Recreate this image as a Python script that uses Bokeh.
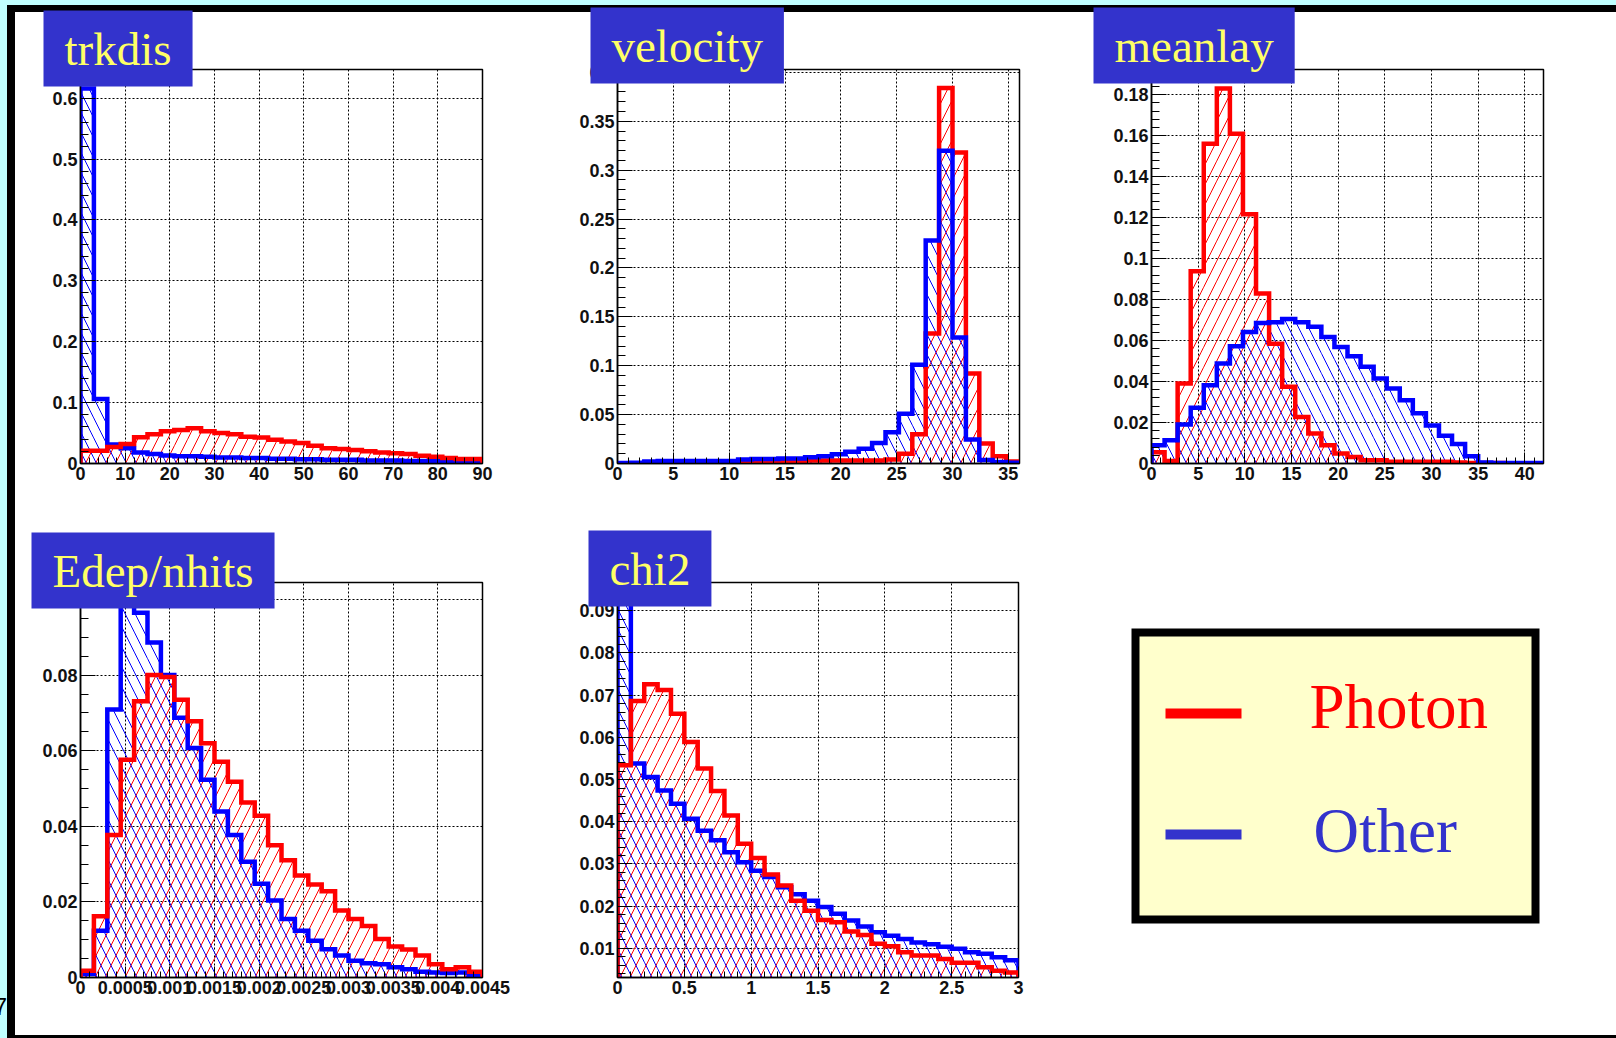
import numpy as np
from bokeh.plotting import figure
from bokeh.models import ColumnDataSource, FixedTicker, Label, Range1d, Spacer, Div
from bokeh.layouts import column, row
from bokeh.embed import file_html
from bokeh.resources import INLINE
from bokeh.core.properties import value

# ---------------- data (30 bins per histogram, normalised) ----------------
trkdis_range = (0, 90)
trkdis_photon = [0.021, 0.021, 0.027, 0.032, 0.043, 0.048, 0.053, 0.055, 0.058, 0.053,
                 0.050, 0.048, 0.044, 0.0425, 0.039, 0.036, 0.0335, 0.029, 0.025, 0.024,
                 0.022, 0.020, 0.018, 0.017, 0.0155, 0.0127, 0.011, 0.009, 0.0072, 0.0072]
trkdis_other = [0.616, 0.106, 0.031, 0.025, 0.018, 0.0155, 0.013, 0.012, 0.012, 0.011,
                0.010, 0.010, 0.009, 0.009, 0.008, 0.008, 0.007, 0.007, 0.006, 0.006,
                0.006, 0.005, 0.005, 0.005, 0.004, 0.004, 0.004, 0.003, 0.003, 0.003]

velocity_range = (0, 36)
velocity_photon = [0, 0, 0.0003, 0.0003, 0.0003, 0, 0, 0, 0, 0.002,
                   0.002, 0.002, 0.002, 0.002, 0.003, 0.003, 0.003, 0.003, 0.003, 0.003,
                   0.004, 0.010, 0.030, 0.133, 0.384, 0.318, 0.092, 0.0205, 0.0075, 0.002]
velocity_other = [0.0005, 0.0008, 0.002, 0.0025, 0.0025, 0.0025, 0.0025, 0.0025, 0.0025, 0.004,
                  0.0045, 0.0045, 0.005, 0.005, 0.0065, 0.0075, 0.0095, 0.012, 0.015, 0.021,
                  0.032, 0.051, 0.101, 0.228, 0.320, 0.129, 0.0246, 0.0035, 0.0015, 0.0008]

meanlay_range = (0, 42)
meanlay_photon = [0.0055, 0.0012, 0.039, 0.0938, 0.156, 0.183, 0.161, 0.1216, 0.083, 0.0585,
                  0.0374, 0.0227, 0.0146, 0.0089, 0.0049, 0.0032, 0.0016, 0.0016, 0.0008, 0.0008,
                  0.0008, 0.0008, 0.0008, 0.0005, 0.0003, 0.0003, 0.0002, 0.0001, 0.0, 0.0]
meanlay_other = [0.0089, 0.0114, 0.019, 0.0272, 0.0382, 0.0488, 0.0572, 0.0642, 0.0686, 0.069,
                 0.0705, 0.069, 0.0667, 0.0618, 0.0569, 0.0524, 0.0472, 0.0415, 0.0366, 0.0309,
                 0.0245, 0.0185, 0.0135, 0.0095, 0.0035, 0.0005, 0.0003, 0.0002, 0.0002, 0.0002]

edep_range = (0, 0.0045)
edep_photon = [0.0018, 0.0162, 0.0377, 0.0576, 0.0731, 0.080, 0.0795, 0.0735, 0.0678, 0.062,
               0.0571, 0.0518, 0.0463, 0.0428, 0.035, 0.031, 0.027, 0.0246, 0.0228, 0.0177,
               0.0155, 0.0136, 0.0102, 0.0082, 0.0074, 0.0058, 0.0035, 0.0022, 0.0027, 0.0015]
edep_other = [0.0009, 0.0124, 0.0709, 0.0995, 0.0965, 0.0886, 0.080, 0.0687, 0.0607, 0.0523,
              0.0439, 0.0377, 0.0306, 0.0248, 0.0204, 0.0155, 0.0124, 0.0097, 0.0075, 0.0058,
              0.0044, 0.0038, 0.0035, 0.0027, 0.0022, 0.0015, 0.0013, 0.0012, 0.0013, 0.0006]

chi2_range = (0, 3)
chi2_photon = [0.0534, 0.0686, 0.0726, 0.0712, 0.0656, 0.0589, 0.0526, 0.0473, 0.0415, 0.0348,
               0.0314, 0.0275, 0.0249, 0.0213, 0.0189, 0.0167, 0.0162, 0.0140, 0.0132, 0.0111,
               0.0105, 0.0091, 0.0083, 0.0083, 0.0075, 0.0066, 0.0066, 0.0055, 0.0047, 0.0043]
chi2_other = [0.21, 0.0538, 0.0506, 0.0474, 0.0443, 0.0407, 0.0379, 0.0356, 0.0328, 0.0304,
              0.0284, 0.0269, 0.0245, 0.0228, 0.0213, 0.0198, 0.0182, 0.0166, 0.0152, 0.0138,
              0.0130, 0.0122, 0.0114, 0.0110, 0.0104, 0.0099, 0.0091, 0.0087, 0.0079, 0.0072]

# tick values and labels
trkdis_xticks = [0, 10, 20, 30, 40, 50, 60, 70, 80, 90]
trkdis_xlabels = ["0", "10", "20", "30", "40", "50", "60", "70", "80", "90"]
trkdis_yticks = [0, 0.1, 0.2, 0.3, 0.4, 0.5, 0.6]
trkdis_ylabels = ["0", "0.1", "0.2", "0.3", "0.4", "0.5", "0.6"]

velocity_xticks = [0, 5, 10, 15, 20, 25, 30, 35]
velocity_xlabels = ["0", "5", "10", "15", "20", "25", "30", "35"]
velocity_yticks = [0, 0.05, 0.1, 0.15, 0.2, 0.25, 0.3, 0.35, 0.4]
velocity_ylabels = ["0", "0.05", "0.1", "0.15", "0.2", "0.25", "0.3", "0.35", "0.4"]

meanlay_xticks = [0, 5, 10, 15, 20, 25, 30, 35, 40]
meanlay_xlabels = ["0", "5", "10", "15", "20", "25", "30", "35", "40"]
meanlay_yticks = [0, 0.02, 0.04, 0.06, 0.08, 0.1, 0.12, 0.14, 0.16, 0.18]
meanlay_ylabels = ["0", "0.02", "0.04", "0.06", "0.08", "0.1", "0.12", "0.14", "0.16", "0.18"]

edep_xticks = [0, 0.0005, 0.001, 0.0015, 0.002, 0.0025, 0.003, 0.0035, 0.004, 0.0045]
edep_xlabels = ["0", "0.0005", "0.001", "0.0015", "0.002", "0.0025", "0.003", "0.0035", "0.004", "0.0045"]
edep_yticks = [0, 0.02, 0.04, 0.06, 0.08, 0.1]
edep_ylabels = ["0", "0.02", "0.04", "0.06", "0.08", "0.1"]

chi2_xticks = [0, 0.5, 1, 1.5, 2, 2.5, 3]
chi2_xlabels = ["0", "0.5", "1", "1.5", "2", "2.5", "3"]
chi2_yticks = [0.01, 0.02, 0.03, 0.04, 0.05, 0.06, 0.07, 0.08, 0.09]
chi2_ylabels = ["0.01", "0.02", "0.03", "0.04", "0.05", "0.06", "0.07", "0.08", "0.09"]

legend_labels = ["Photon", "Other"]
legend_colors = ["#ff0000", "#3333cc"]
page_number = "7"

# ---------------- style ----------------
RED = "#ff0000"
BLUE = "#0000ff"
TITLE_BG = "#3333cc"
TITLE_FG = "#ffff66"
CYAN = "#c0ffff"
SERIF = "Liberation Serif"
SANS = "Liberation Sans"
TOP = 77          # height reserved by the title box in the "above" panel


def minor_list(lo, hi, step):
    n = int(round((hi - lo) / step))
    return [lo + i * step for i in range(n + 1)]


def style_axis(ax, ticks, labels, minor, tick_in, minor_in):
    ax.ticker = FixedTicker(ticks=ticks, minor_ticks=minor)
    ax.major_label_overrides = {t: l for t, l in zip(ticks, labels)}
    ax.major_tick_in = tick_in
    ax.major_tick_out = 0
    ax.minor_tick_in = minor_in
    ax.minor_tick_out = 0
    ax.major_tick_line_color = "black"
    ax.minor_tick_line_color = "black"
    ax.axis_line_color = "black"
    ax.axis_line_width = 1.5
    ax.major_label_text_font = SANS
    ax.major_label_text_font_style = "bold"
    ax.major_label_text_font_size = "18px"
    ax.major_label_text_color = "#111111"
    ax.major_label_standoff = 3
    return ax.ticker


def draw_hist(p, rng, vals, color, hatch, base):
    edges = np.linspace(rng[0], rng[1], len(vals) + 1)
    v = np.asarray(vals, dtype=float)
    src = ColumnDataSource(dict(left=edges[:-1], right=edges[1:], top=v))
    p.quad(left="left", right="right", top="top", bottom=base, source=src,
           fill_color=None, line_color=None, hatch_pattern=hatch,
           hatch_color=color, hatch_scale=20, hatch_weight=1)
    xs = np.repeat(edges, 2)
    ys = np.concatenate([[base], np.repeat(v, 2), [base]])
    return xs, ys


def panel(name, rng, photon, other, yr, xt, xl, xminor, yt, yl, yminor,
          geom, tpos, red_on_top, shift):
    fw, fh, ml, mr, mb = geom
    p = figure(title=None, frame_width=fw, frame_height=fh,
               min_border_left=ml, min_border_right=mr,
               min_border_top=TOP, min_border_bottom=mb,
               x_range=Range1d(rng[0], rng[1]), y_range=Range1d(yr[0], yr[1]),
               toolbar_location=None, output_backend="svg",
               background_fill_color="white", border_fill_color=None,
               outline_line_color="black", outline_line_width=1.5,
               margin=(shift, 0, 0, 0))
    xtk = style_axis(p.xaxis[0], xt, xl, xminor, 11, 6)
    ytk = style_axis(p.yaxis[0], yt, yl, yminor, 15, 8)
    for g, tk in ((p.xgrid[0], xtk), (p.ygrid[0], ytk)):
        g.ticker = tk
        g.grid_line_color = "black"
        g.grid_line_dash = "2 2"
        g.grid_line_width = 1

    xr_, yr_ = draw_hist(p, rng, photon, RED, "/", 0)
    xb_, yb_ = draw_hist(p, rng, other, BLUE, "\\", 0)
    order = [(xb_, yb_, BLUE), (xr_, yr_, RED)] if red_on_top else [(xr_, yr_, RED), (xb_, yb_, BLUE)]
    for xs, ys, c in order:
        p.line(xs, ys, line_color=c, line_width=4.5, line_join="miter")

    # title box lives in the "above" side panel so it is not clipped to the frame
    p.add_layout(Label(x=tpos[0], y=tpos[1], x_units="screen", y_units="screen",
                       text=name, text_font=SERIF, text_font_size="47px",
                       text_color=TITLE_FG, text_align="left", text_baseline="top",
                       background_fill_color=TITLE_BG, padding=(21, 12)), "above")
    return p


p1 = panel("trkdis", trkdis_range, trkdis_photon, trkdis_other, (0, 0.647),
           trkdis_xticks, trkdis_xlabels, minor_list(0, 90, 2),
           trkdis_yticks, trkdis_ylabels, minor_list(0, 0.64, 0.02),
           (402, 394, 65, 78, 57), (-37, 59), True, -20)
p2 = panel("velocity", velocity_range, velocity_photon, velocity_other, (0, 0.403),
           velocity_xticks, velocity_xlabels, minor_list(0, 36, 1),
           velocity_yticks, velocity_ylabels, minor_list(0, 0.40, 0.01),
           (402, 394, 57, 66, 57), (-27, 62), False, -20)
p3 = panel("meanlay", meanlay_range, meanlay_photon, meanlay_other, (0, 0.1923),
           meanlay_xticks, meanlay_xlabels, minor_list(0, 42, 1),
           meanlay_yticks, meanlay_ylabels, minor_list(0, 0.192, 0.004),
           (392, 394, 66, 73, 57), (-58, 62), False, -20)
p4 = panel("Edep/nhits", edep_range, edep_photon, edep_other, (0, 0.1045),
           edep_xticks, edep_xlabels, minor_list(0, 0.0045, 0.0001),
           edep_yticks, edep_ylabels, minor_list(0, 0.1, 0.005),
           (402, 395, 65, 78, 58), (-49, 50), True, -15)
p5 = panel("chi2", chi2_range, chi2_photon, chi2_other, (0.0031, 0.0967),
           chi2_xticks, chi2_xlabels, minor_list(0, 3, 0.1),
           chi2_yticks, chi2_ylabels, minor_list(0.004, 0.096, 0.002),
           (401, 395, 57, 67, 58), (-29, 52), True, -15)

# legend panel (same vertical borders as the other plots in its row)
leg = figure(title=None, frame_width=420, frame_height=395, min_border_left=40, min_border_right=71,
             min_border_top=TOP, min_border_bottom=58,
             x_range=Range1d(0, 420), y_range=Range1d(0, 395),
             x_axis_type=None, y_axis_type=None, toolbar_location=None,
             output_backend="svg", background_fill_color=None,
             border_fill_color=None, outline_line_color=None, margin=(-15, 0, 0, 0))
leg.xgrid.visible = False
leg.ygrid.visible = False
leg.quad(left=[10], right=[410], bottom=[58], top=[345], fill_color="#ffffcc",
         line_color="black", line_width=8, line_join="miter")
leg_src = ColumnDataSource(dict(
    x0=[40, 40], x1=[116, 116], y=[264, 143],
    tx=[184, 188], ty=[271, 147],
    label=legend_labels, color=legend_colors))
leg.segment(x0="x0", y0="y", x1="x1", y1="y", line_color="color", line_width=10,
            source=leg_src)
leg.text(x="tx", y="ty", text="label", text_color="color",
         text_font=value(SERIF), text_font_size="63px",
         text_baseline="alphabetic", text_align="left", source=leg_src)


def strip(w, h, color):
    return Spacer(width=w, height=h, styles={"background-color": color})


# left cyan margin carrying the (cut-off) slide number at its foot
left_margin = Div(text=page_number, width=7, height=1033, margin=0,
                  styles={"background-color": CYAN, "overflow": "hidden",
                          "display": "flex", "align-items": "flex-end",
                          "justify-content": "flex-end", "padding-bottom": "19px",
                          "box-sizing": "border-box", "font-family": SANS,
                          "font-size": "23px", "line-height": "1", "color": "#000000",
                          "min-width": "0", "max-width": "7px"})

root = column(
    strip(1616, 5, CYAN),
    row(left_margin, strip(8, 1033, "#000000"),
        column(strip(1601, 7, "#000000"),
               row(p1, p2, p3),
               row(p4, p5, leg),
               strip(1601, 3, "#000000"),
               styles={"background-color": "#ffffff"})),
)

open("out.html", "w").write(file_html(root, INLINE))
